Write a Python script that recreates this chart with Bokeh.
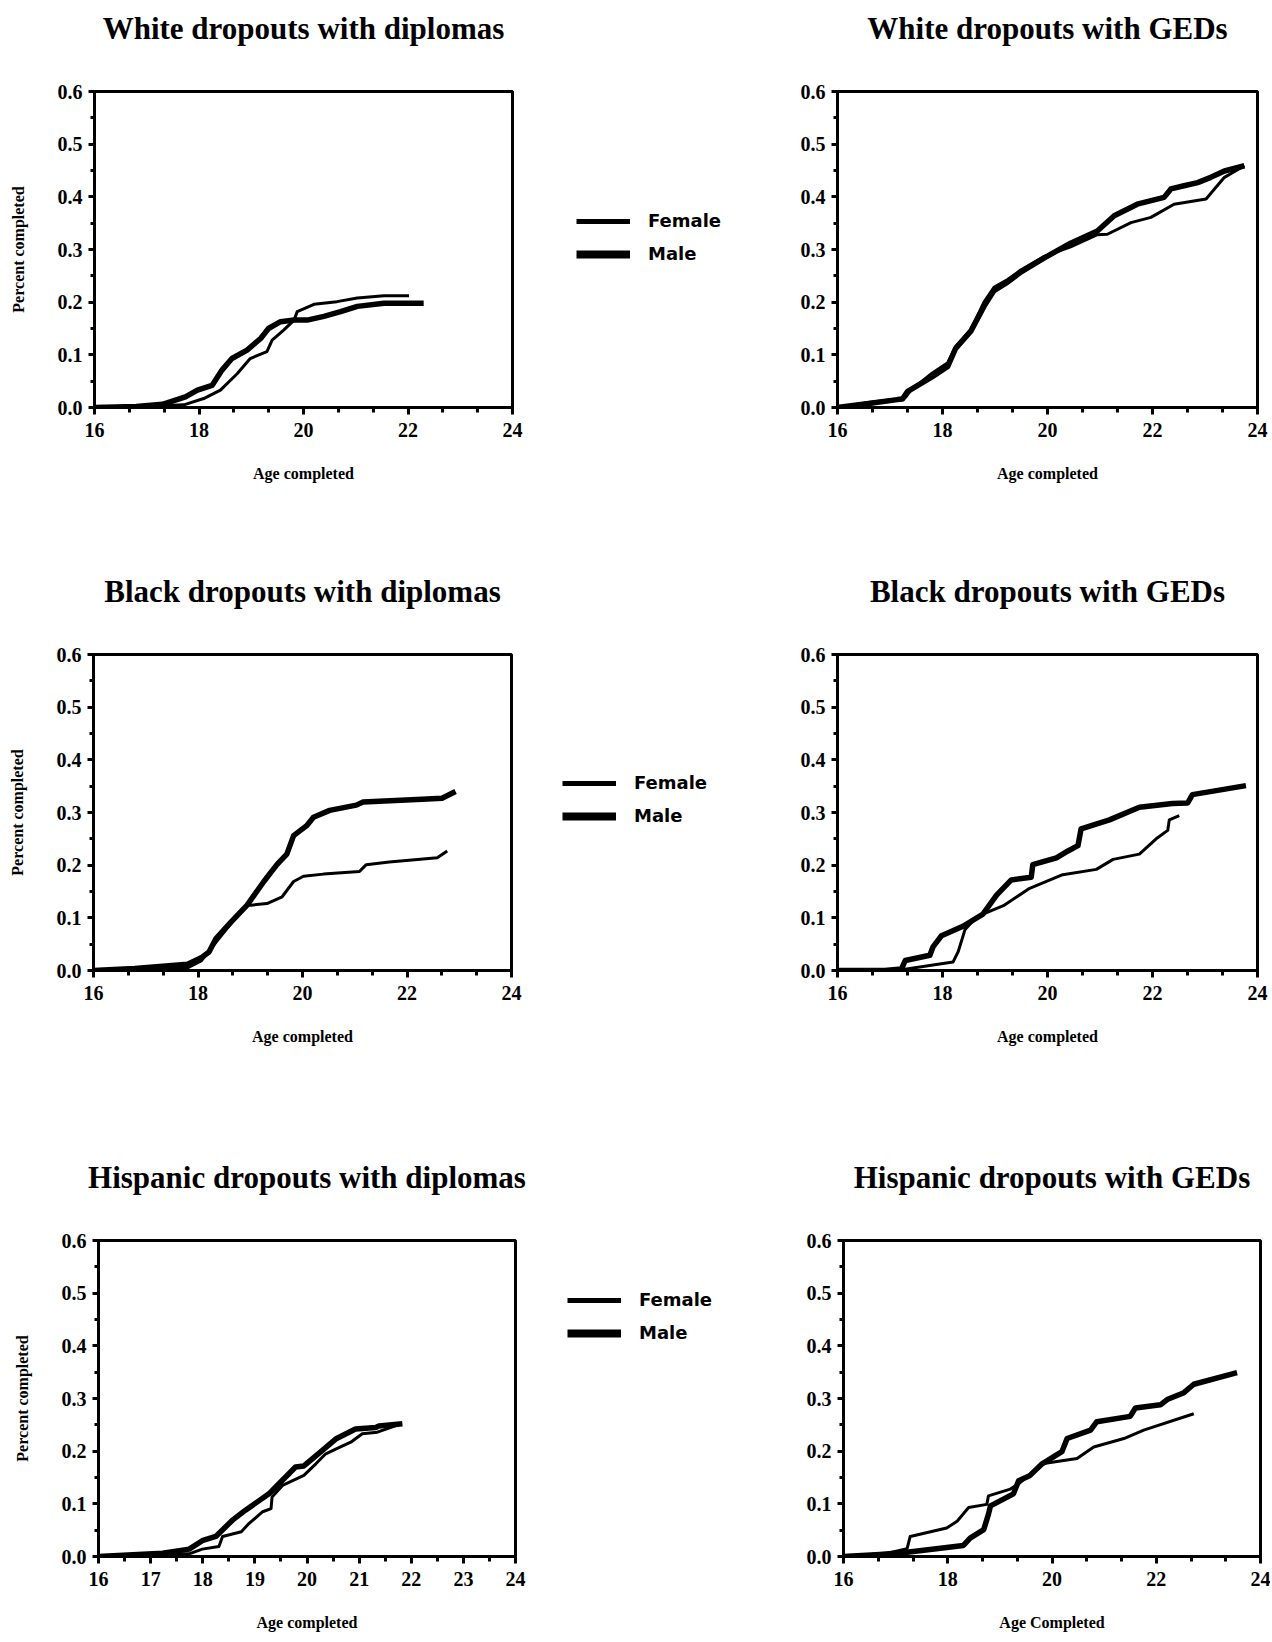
from bokeh.plotting import figure
from bokeh.layouts import column, row
from bokeh.models import FixedTicker, NumeralTickFormatter, Legend, LegendItem, LinearAxis
from bokeh.embed import file_html
from bokeh.resources import INLINE

# ---------------- data ----------------
y_ticks = [0.0, 0.1, 0.2, 0.3, 0.4, 0.5, 0.6]
y_minor = [0.05, 0.15, 0.25, 0.35, 0.45, 0.55]
x_ticks_even = [16, 18, 20, 22, 24]
x_minor_even = [16 + 2 * k / 3 for k in range(13)]
x_ticks_all = [16, 17, 18, 19, 20, 21, 22, 23, 24]
x_minor_all = [16 + k / 2 for k in range(17)]

series_labels = ["Female", "Male"]

# White dropouts with diplomas
w_dip_f_age = [16.0, 17.0, 17.71, 18.09, 18.41, 18.73, 18.98, 19.30, 19.40, 19.62, 19.82, 19.88, 20.20, 20.64, 21.03, 21.54, 22.02]
w_dip_f_pct = [0.0, 0.002, 0.005, 0.017, 0.033, 0.064, 0.093, 0.106, 0.128, 0.147, 0.166, 0.182, 0.196, 0.201, 0.208, 0.212, 0.212]
w_dip_m_age = [16.0, 16.8, 17.3, 17.74, 17.97, 18.25, 18.44, 18.63, 18.92, 19.18, 19.33, 19.56, 19.82, 20.07, 20.39, 20.71, 21.03, 21.54, 22.30]
w_dip_m_pct = [0.0, 0.002, 0.006, 0.020, 0.033, 0.042, 0.071, 0.093, 0.109, 0.131, 0.150, 0.163, 0.166, 0.166, 0.173, 0.182, 0.192, 0.198, 0.198]

# White dropouts with GEDs
w_ged_f_age = [16.0, 16.63, 17.14, 17.3, 17.4, 17.8, 18.1, 18.25, 18.54, 18.79, 18.98, 19.24, 19.49, 19.94, 20.44, 20.95, 21.14, 21.59, 21.97, 22.41, 23.02, 23.37, 23.75]
w_ged_f_pct = [0.0, 0.010, 0.016, 0.020, 0.033, 0.065, 0.085, 0.116, 0.148, 0.200, 0.228, 0.243, 0.261, 0.287, 0.305, 0.328, 0.329, 0.351, 0.361, 0.386, 0.396, 0.437, 0.459]
w_ged_m_age = [16.0, 16.63, 17.14, 17.24, 17.33, 17.8, 18.1, 18.25, 18.54, 18.79, 18.98, 19.24, 19.49, 19.94, 20.44, 20.95, 21.27, 21.71, 22.22, 22.35, 22.6, 22.86, 23.11, 23.37, 23.75]
w_ged_m_pct = [0.0, 0.008, 0.015, 0.016, 0.030, 0.058, 0.078, 0.112, 0.145, 0.192, 0.222, 0.238, 0.257, 0.284, 0.312, 0.335, 0.364, 0.386, 0.399, 0.415, 0.421, 0.427, 0.437, 0.449, 0.459]

# Black dropouts with diplomas
b_dip_f_age = [16.0, 16.79, 17.80, 18.06, 18.34, 18.63, 18.94, 19.00, 19.32, 19.61, 19.83, 20.02, 20.40, 21.09, 21.22, 21.66, 22.58, 22.77]
b_dip_f_pct = [0.0, 0.002, 0.005, 0.018, 0.053, 0.089, 0.124, 0.124, 0.127, 0.140, 0.169, 0.179, 0.183, 0.188, 0.201, 0.206, 0.214, 0.227]
b_dip_m_age = [16.0, 16.79, 17.80, 18.06, 18.21, 18.34, 18.63, 18.94, 19.26, 19.51, 19.70, 19.83, 20.08, 20.21, 20.52, 21.03, 21.16, 22.29, 22.67, 22.93]
b_dip_m_pct = [0.0, 0.004, 0.012, 0.024, 0.035, 0.060, 0.092, 0.124, 0.169, 0.201, 0.221, 0.256, 0.275, 0.291, 0.304, 0.314, 0.320, 0.325, 0.327, 0.340]

# Black dropouts with GEDs
b_ged_f_age = [16.0, 16.87, 17.19, 18.20, 18.30, 18.43, 18.58, 18.77, 19.16, 19.66, 20.29, 20.93, 21.25, 21.75, 22.07, 22.29, 22.32, 22.51]
b_ged_f_pct = [0.0, 0.0, 0.001, 0.016, 0.036, 0.078, 0.094, 0.107, 0.123, 0.156, 0.182, 0.192, 0.211, 0.221, 0.250, 0.266, 0.286, 0.294]
b_ged_m_age = [16.0, 16.9, 17.22, 17.29, 17.76, 17.82, 17.98, 18.39, 18.77, 19.03, 19.31, 19.69, 19.72, 20.17, 20.39, 20.58, 20.64, 21.18, 21.75, 22.38, 22.67, 22.76, 23.78]
b_ged_m_pct = [0.0, 0.0, 0.003, 0.019, 0.029, 0.045, 0.066, 0.084, 0.107, 0.143, 0.172, 0.177, 0.201, 0.214, 0.227, 0.237, 0.269, 0.286, 0.310, 0.317, 0.318, 0.334, 0.351]

# Hispanic dropouts with diplomas
h_dip_f_age = [16.0, 17.74, 17.99, 18.31, 18.38, 18.74, 18.89, 19.15, 19.31, 19.33, 19.53, 19.94, 20.17, 20.36, 20.55, 20.84, 21.06, 21.35, 21.75]
h_dip_f_pct = [0.0, 0.005, 0.014, 0.019, 0.038, 0.047, 0.063, 0.085, 0.091, 0.113, 0.135, 0.154, 0.176, 0.195, 0.204, 0.217, 0.233, 0.236, 0.250]
h_dip_m_age = [16.0, 17.23, 17.74, 17.99, 18.25, 18.57, 18.82, 19.27, 19.40, 19.78, 19.94, 20.29, 20.55, 20.93, 21.32, 21.38, 21.83]
h_dip_m_pct = [0.0, 0.006, 0.014, 0.030, 0.038, 0.069, 0.088, 0.119, 0.132, 0.170, 0.172, 0.201, 0.223, 0.242, 0.245, 0.248, 0.252]

# Hispanic dropouts with GEDs
h_ged_f_age = [16.0, 16.70, 17.22, 17.28, 17.98, 18.18, 18.40, 18.75, 18.78, 19.20, 19.36, 19.81, 20.48, 20.80, 21.38, 21.76, 22.72]
h_ged_f_pct = [0.0, 0.003, 0.015, 0.038, 0.054, 0.067, 0.093, 0.099, 0.115, 0.128, 0.138, 0.176, 0.186, 0.208, 0.224, 0.240, 0.271]
h_ged_m_age = [16.0, 16.70, 17.22, 18.30, 18.43, 18.69, 18.78, 18.82, 19.26, 19.36, 19.58, 19.81, 20.19, 20.29, 20.74, 20.86, 21.50, 21.60, 22.08, 22.21, 22.53, 22.72, 23.55]
h_ged_m_pct = [0.0, 0.004, 0.008, 0.021, 0.035, 0.051, 0.080, 0.096, 0.119, 0.144, 0.154, 0.176, 0.199, 0.224, 0.240, 0.256, 0.266, 0.282, 0.288, 0.298, 0.311, 0.327, 0.349]

# legend proxies: no visible data, only carry the line style
NAN = float("nan")
legend_proxy_x = [NAN, NAN]
legend_proxy_y = [NAN, NAN]

# ---------------- styling ----------------
SERIF = "Liberation Serif"
SANS = "DejaVu Sans"
FEMALE_W = 3
MALE_W = 5.5


def panel(title, xlabel, ylabel, w, h, ml, mr, mt, mb, xt, xm, f, m):
    p = figure(width=w, height=h, x_range=(16, 24), y_range=(0, 0.6), title=None,
               output_backend="svg", toolbar_location=None,
               min_border_left=ml, min_border_right=mr,
               min_border_top=mt, min_border_bottom=mb)
    p.background_fill_color = "white"
    p.border_fill_color = "white"
    p.outline_line_color = "black"
    p.outline_line_width = 3
    p.outline_line_alpha = 1.0
    p.xgrid.visible = False
    p.ygrid.visible = False

    # panel heading, carried by an unticked axis above the frame
    ta = LinearAxis(ticker=FixedTicker(ticks=[], minor_ticks=[]), axis_label=title)
    ta.axis_line_color = None
    ta.major_tick_out = 0
    ta.minor_tick_out = 0
    ta.major_tick_in = 0
    ta.minor_tick_in = 0
    ta.major_label_standoff = 0
    ta.axis_label_standoff = 46
    ta.axis_label_text_font = SERIF
    ta.axis_label_text_font_size = "31px"
    ta.axis_label_text_font_style = "bold"
    ta.axis_label_text_color = "black"
    p.add_layout(ta, "above")

    xa = p.below[0]
    xa.ticker = FixedTicker(ticks=xt, minor_ticks=xm)
    ya = p.left[0]
    ya.ticker = FixedTicker(ticks=y_ticks, minor_ticks=y_minor)
    ya.formatter = NumeralTickFormatter(format="0.0")
    for ax in (xa, ya):
        ax.axis_line_width = 3
        ax.axis_line_color = "black"
        ax.major_tick_line_width = 3
        ax.minor_tick_line_width = 3
        ax.major_tick_in = 0
        ax.minor_tick_in = 0
        ax.major_label_text_font = SERIF
        ax.major_label_text_font_style = "bold"
        ax.major_label_text_font_size = "20px"
        ax.major_label_text_color = "black"
        ax.axis_label_text_font = SERIF
        ax.axis_label_text_font_style = "bold"
        ax.axis_label_text_font_size = "16px"
        ax.axis_label_text_color = "black"
    xa.major_tick_out = 7
    xa.minor_tick_out = 5
    xa.major_label_standoff = 8
    xa.axis_label = xlabel
    xa.axis_label_standoff = 25
    ya.major_tick_out = 6
    ya.minor_tick_out = 4
    ya.major_label_standoff = 6
    if ylabel:
        ya.axis_label = ylabel
        ya.axis_label_standoff = 28

    p.line(f[0], f[1], line_width=FEMALE_W, color="black", line_join="round")
    p.line(m[0], m[1], line_width=MALE_W, color="black", line_join="round")
    return p


def legend_fig(w, h, mt, mb, loc):
    q = figure(width=w, height=h, x_range=(0, 1), y_range=(0, 1), title=None,
               x_axis_type=None, y_axis_type=None,
               output_backend="svg", toolbar_location=None,
               min_border_left=0, min_border_right=0,
               min_border_top=mt, min_border_bottom=mb)
    q.outline_line_color = None
    q.background_fill_color = "white"
    q.border_fill_color = "white"
    lf = q.line(x=legend_proxy_x, y=legend_proxy_y, line_width=5, color="black")
    lm = q.line(x=legend_proxy_x, y=legend_proxy_y, line_width=8, color="black")
    leg = Legend(items=[LegendItem(label=series_labels[0], renderers=[lf]),
                        LegendItem(label=series_labels[1], renderers=[lm])],
                 location=loc)
    leg.glyph_width = 54
    leg.glyph_height = 20
    leg.label_height = 20
    leg.spacing = 12
    leg.padding = 0
    leg.margin = 0
    leg.label_standoff = 18
    leg.border_line_color = None
    leg.background_fill_alpha = 0
    leg.label_text_font = SANS
    leg.label_text_font_style = "bold"
    leg.label_text_font_size = "18px"
    leg.label_text_color = "black"
    q.add_layout(leg)
    return q


LW, MW, RW = 530, 230, 510
H1, H2, H3 = 560, 570, 508
T1, T2, T3 = 91, 94, 110          # frame top offset inside each row
B1, B2, B3 = H1 - T1 - 316, H2 - T2 - 316, H3 - T3 - 316

p1 = panel("White dropouts with diplomas", "Age completed", "Percent completed",
           LW, H1, 94, LW - 94 - 418, T1, B1, x_ticks_even, x_minor_even,
           (w_dip_f_age, w_dip_f_pct), (w_dip_m_age, w_dip_m_pct))
g1 = legend_fig(MW, H1, T1, B1, (46, 143))
p2 = panel("White dropouts with GEDs", "Age completed", None,
           RW, H1, 77, 13, T1, B1, x_ticks_even, x_minor_even,
           (w_ged_f_age, w_ged_f_pct), (w_ged_m_age, w_ged_m_pct))

p3 = panel("Black dropouts with diplomas", "Age completed", "Percent completed",
           LW, H2, 93, LW - 93 - 418, T2, B2, x_ticks_even, x_minor_even,
           (b_dip_f_age, b_dip_f_pct), (b_dip_m_age, b_dip_m_pct))
g2 = legend_fig(MW, H2, T2, B2, (32, 144))
p4 = panel("Black dropouts with GEDs", "Age completed", None,
           RW, H2, 77, 13, T2, B2, x_ticks_even, x_minor_even,
           (b_ged_f_age, b_ged_f_pct), (b_ged_m_age, b_ged_m_pct))

p5 = panel("Hispanic dropouts with diplomas", "Age completed", "Percent completed",
           LW, H3, 98, LW - 98 - 417, T3, B3, x_ticks_all, x_minor_all,
           (h_dip_f_age, h_dip_f_pct), (h_dip_m_age, h_dip_m_pct))
g3 = legend_fig(MW, H3, T3, B3, (37, 213))
p6 = panel("Hispanic dropouts with GEDs", "Age Completed", None,
           RW, H3, 83, 10, T3, B3, x_ticks_even, x_minor_even,
           (h_ged_f_age, h_ged_f_pct), (h_ged_m_age, h_ged_m_pct))

layout = column(row(p1, g1, p2), row(p3, g2, p4), row(p5, g3, p6))
open("out.html", "w").write(file_html(layout, INLINE))
